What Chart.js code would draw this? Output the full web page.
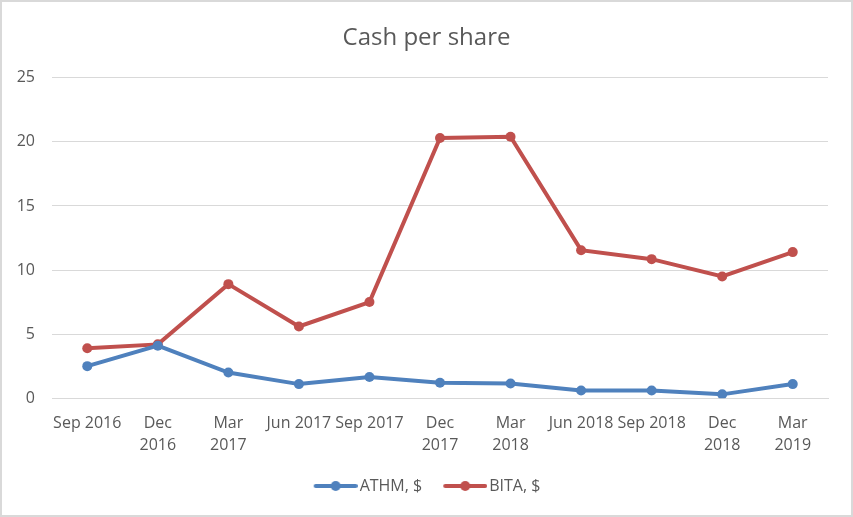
<!DOCTYPE html>
<html lang="en">
<head>
    <meta charset="UTF-8">
    <title>Cash per share</title>
    <script src="https://cdn.jsdelivr.net/npm/chart.js"></script>
    <style>
        html, body { margin: 0; padding: 0; background: #fff; }
        #wrap { width: 853px; height: 517px; }
    </style>
</head>
<body>
    <div id="wrap"><canvas id="cashChart"></canvas></div>
    <script>
        // data
        const quarters = [
            'Sep 2016', ['Dec', '2016'], ['Mar', '2017'], 'Jun 2017', 'Sep 2017',
            ['Dec', '2017'], ['Mar', '2018'], 'Jun 2018', 'Sep 2018', ['Dec', '2018'], ['Mar', '2019']
        ];
        const athm = [2.5, 4.1, 2.0, 1.1, 1.65, 1.2, 1.15, 0.6, 0.6, 0.3, 1.1];
        const bita = [3.9, 4.2, 8.9, 5.6, 7.5, 20.3, 20.4, 11.55, 10.85, 9.5, 11.4];
        const yTicks = [0, 5, 10, 15, 20, 25];

        const blue = '#4f81bd';
        const red = '#c0504d';
        const textColor = '#595959';
        const gridColor = '#d9d9d9';
        const fontFamily = '"Open Sans", "Liberation Sans", sans-serif';

        // legend sample: short line with a dot, pushed right so it sits close to the text
        function legendMark(color) {
            const c = document.createElement('canvas');
            c.width = 56; c.height = 12;
            const ctx = c.getContext('2d');
            ctx.strokeStyle = color;
            ctx.lineWidth = 4;
            ctx.lineCap = 'round';
            ctx.beginPath();
            ctx.moveTo(14, 6); ctx.lineTo(54, 6);
            ctx.stroke();
            ctx.fillStyle = color;
            ctx.beginPath();
            ctx.arc(34, 6, 5, 0, Math.PI * 2);
            ctx.fill();
            return c;
        }
        const marks = [legendMark(blue), legendMark(red)];

        const frame = {
            id: 'frame',
            beforeDraw(chart) {
                const ctx = chart.ctx;
                ctx.save();
                ctx.fillStyle = '#ffffff';
                ctx.fillRect(0, 0, chart.width, chart.height);
                ctx.strokeStyle = gridColor;
                ctx.lineWidth = 2;
                ctx.strokeRect(1, 1, chart.width - 2, chart.height - 2);
                ctx.restore();
            },
            afterLayout(chart) {
                // title centred on the whole picture, legend nudged right a little
                chart.titleBlock.left = 0;
                chart.titleBlock.right = chart.width;
                chart.legend.left += 10;
            }
        };

        new Chart(document.getElementById('cashChart'), {
            type: 'line',
            data: {
                labels: quarters,
                datasets: [{
                    label: 'ATHM, $',
                    data: athm,
                    borderColor: blue,
                    backgroundColor: blue,
                    borderWidth: 4,
                    pointRadius: 5,
                    pointHoverRadius: 5,
                    pointBorderWidth: 0,
                    tension: 0
                }, {
                    label: 'BITA, $',
                    data: bita,
                    borderColor: red,
                    backgroundColor: red,
                    borderWidth: 4,
                    pointRadius: 5,
                    pointHoverRadius: 5,
                    pointBorderWidth: 0,
                    tension: 0
                }]
            },
            options: {
                responsive: true,
                maintainAspectRatio: false,
                animation: false,
                layout: { padding: { left: 10, right: 25, top: 0, bottom: 13 } },
                scales: {
                    x: {
                        offset: true,
                        grid: { display: false },
                        border: { display: true, color: gridColor, width: 1 },
                        ticks: {
                            color: textColor,
                            font: { family: fontFamily, size: 16, lineHeight: 1.4 },
                            maxRotation: 0,
                            autoSkip: false,
                            padding: 6
                        }
                    },
                    y: {
                        min: 0,
                        max: 25,
                        afterFit(scale) { scale.width = 42; },
                        afterBuildTicks(scale) { scale.ticks = yTicks.map(v => ({ value: v })); },
                        grid: { color: gridColor, lineWidth: 1, drawTicks: false },
                        border: { display: false },
                        ticks: {
                            color: textColor,
                            font: { family: fontFamily, size: 16 },
                            padding: 17
                        }
                    }
                },
                plugins: {
                    title: {
                        display: true,
                        text: 'Cash per share',
                        color: textColor,
                        font: { family: fontFamily, size: 24, weight: 'normal' },
                        padding: { top: 24, bottom: 25 }
                    },
                    legend: {
                        position: 'bottom',
                        labels: {
                            color: textColor,
                            font: { family: fontFamily, size: 16 },
                            usePointStyle: true,
                            pointStyleWidth: 44,
                            padding: 15,
                            generateLabels(chart) {
                                const items = Chart.defaults.plugins.legend.labels.generateLabels(chart);
                                items.forEach((it, i) => { it.pointStyle = marks[i]; });
                                return items;
                            }
                        }
                    },
                    tooltip: { enabled: false }
                }
            },
            plugins: [frame]
        });
    </script>
</body>
</html>
